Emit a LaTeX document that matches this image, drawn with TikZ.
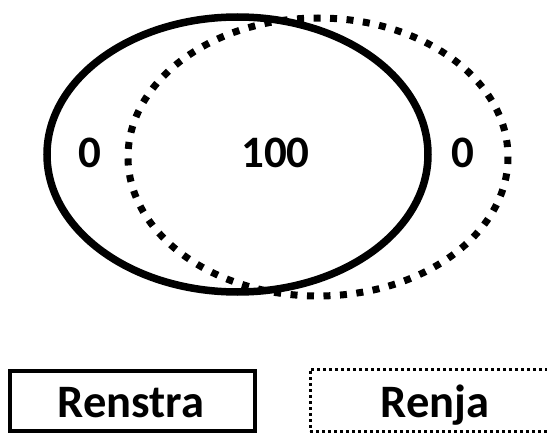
\documentclass[tikz,border=0pt]{standalone}
\usepackage{fontspec}
\setmainfont{Carlito}
\begin{document}
\begin{tikzpicture}[x=1pt,y=-1pt,
  solidset/.style={draw=black,line width=7.5pt},
  dottedset/.style={draw=black,line width=7pt,dash pattern=on 7pt off 9.5pt},
  lbl/.style={font=\fontsize{45}{54}\selectfont\bfseries,inner sep=0pt,anchor=base},
  boxlbl/.style={font=\fontsize{46.5}{56}\selectfont\bfseries,inner sep=0pt,anchor=base},
  solidbox/.style={draw=black,line width=3.3pt,rectangle,inner sep=0pt},
  dottedbox/.style={draw=black,line width=3pt,dash pattern=on 3pt off 3pt,rectangle,inner sep=0pt}]
\useasboundingbox (0,0) rectangle (547,433);
\clip (0,0) rectangle (547,433);
\draw[solidset] (237.5,154.5) ellipse [x radius=190.5, y radius=137.5];
\draw[dottedset] (318,157) ellipse [x radius=190, y radius=139];
\node[lbl] (left) at (90,168) {0};
\node[lbl] (mid) at (275.5,168) {100};
\node[lbl] (right) at (463,168) {0};
\node[solidbox,minimum width=245pt,minimum height=60pt] (boxa) at (132.5,401) {};
\node[dottedbox,minimum width=250pt,minimum height=62pt] (boxb) at (435,400) {};
\node[boxlbl] (renstra) at (131,417) {Renstra};
\node[boxlbl] (renja) at (435,417) {Renja};
\end{tikzpicture}
\end{document}
